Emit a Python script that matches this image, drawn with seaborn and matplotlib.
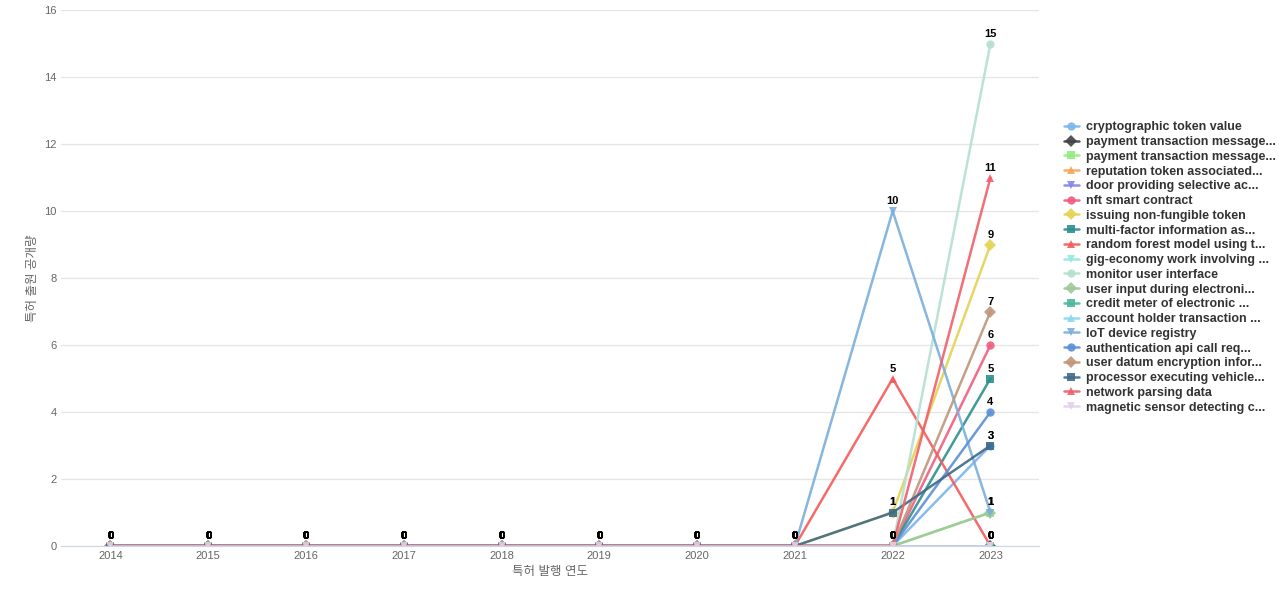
import matplotlib
matplotlib.use("Agg")
import matplotlib.pyplot as plt
import seaborn as sns
import pandas as pd

years = list(range(2014, 2024))
names = ["cryptographic token value", "payment transaction message...", "payment transaction message...",
         "reputation token associated...", "door providing selective ac...", "nft smart contract",
         "issuing non-fungible token", "multi-factor information as...", "random forest model using t...",
         "gig-economy work involving ...", "monitor user interface", "user input during electroni...",
         "credit meter of electronic ...", "account holder transaction ...", "IoT device registry",
         "authentication api call req...", "user datum encryption infor...", "processor executing vehicle...",
         "network parsing data", "magnetic sensor detecting c..."]
colors = ["#7cb5ec", "#434348", "#90ed7d", "#f7a35c", "#8085e9", "#f15c80", "#e4d354", "#2b908f",
          "#f45b5b", "#91e8e1", "#b5dfd0", "#a0c89a", "#4db89a", "#8ad8f0", "#7aaedc", "#5b8fd8",
          "#c0957a", "#3d6a8a", "#ef5f6a", "#e2d0ea"]
markers = ["o", "D", "s", "^", "v", "o", "D", "s", "^", "v", "o", "D", "s", "^", "v", "o", "D", "s", "^", "v"]
v2022 = [0, 0, 0, 0, 0, 0, 1, 0, 5, 0, 0, 0, 0, 0, 10, 0, 0, 1, 0, 0]
v2023 = [3, 0, 1, 0, 0, 6, 9, 5, 0, 0, 15, 1, 0, 0, 1, 4, 7, 3, 11, 0]

rows = []
for i, n in enumerate(names):
    for y in years:
        v = v2022[i] if y == 2022 else v2023[i] if y == 2023 else 0
        rows.append({"series": i, "year": y, "value": v})
df = pd.DataFrame(rows)

sns.set_style("white")
plt.rcParams['font.family'] = ['Liberation Sans', 'Noto Sans CJK KR', 'DejaVu Sans']
fig = plt.figure(figsize=(12.8, 6), dpi=100)
ax = fig.add_axes([0.048, 0.09, 0.764, 0.893])
for i, n in enumerate(names):
    d = df[df.series == i]
    sns.lineplot(data=d, x="year", y="value", ax=ax, color=colors[i], marker=markers[i],
                 markersize=6, linewidth=1.8, alpha=0.9, markeredgewidth=0, label=n)
    for _, r in d.iterrows():
        ax.text(r.year, r.value + 0.15, f"{int(r.value)}", ha="center", va="bottom",
                fontsize=8, fontweight="bold", color="#000")
ax.set_xlim(2013.5, 2023.5)
ax.set_ylim(0, 16)
ax.set_xticks(years)
ax.set_yticks(range(0, 17, 2))
ax.tick_params(labelsize=8, colors="#666", length=0)
ax.grid(axis="y", color="#e6e6e6", linewidth=1)
for s in ["top", "right", "left"]:
    ax.spines[s].set_visible(False)
ax.spines["bottom"].set_color("#ccd6eb")
ax.set_xlabel("특허 발행 연도", fontsize=9, color="#666")
ax.set_ylabel("특허 출원 공개량", fontsize=9, color="#666")
leg = ax.legend(loc="center left", bbox_to_anchor=(1.02, 0.52), frameon=False, fontsize=9,
                handlelength=1.2, handletextpad=0.6, labelspacing=0.22, borderaxespad=0)
for t in leg.get_texts():
    t.set_fontweight("bold")
    t.set_color("#333")
fig.savefig("out.png", dpi=100)
